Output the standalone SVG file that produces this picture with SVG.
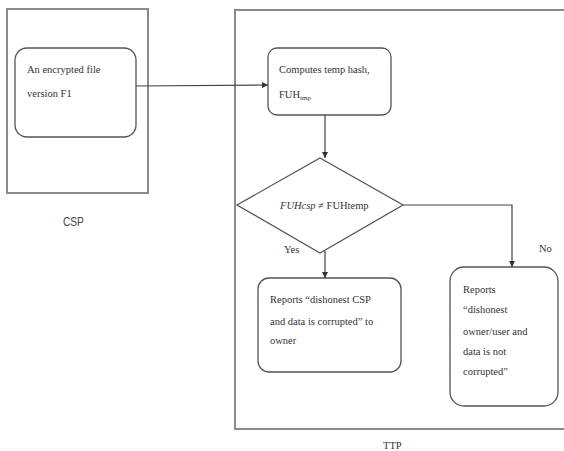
<svg xmlns="http://www.w3.org/2000/svg" width="564" height="451" viewBox="0 0 564 451">
<defs>
<marker id="ah" viewBox="0 0 10 10" refX="10" refY="5" markerWidth="6" markerHeight="6" orient="auto" markerUnits="userSpaceOnUse">
<path d="M0,0 L10,5 L0,10 z" fill="#333"/>
</marker>
</defs>
<style>
.frame{fill:none;stroke:#8a8a8a;stroke-width:2}
.box{fill:#fff;stroke:#555;stroke-width:1.3}
.t{font-family:"Liberation Serif","Times New Roman",serif;font-size:10.5px;fill:#333}
.lbl{font-family:"Liberation Sans",Arial,sans-serif;font-size:12px;fill:#444}
.c{fill:none;stroke:#444;stroke-width:1.2}
</style>
<rect width="564" height="451" fill="#fff"/>
<g id="csp">
<rect class="frame" x="7" y="9" width="141" height="184"/>
<text class="lbl" x="63" y="226" transform="scale(0.85,1) translate(11,0)">CSP</text>
</g>
<g id="ttp">
<rect class="frame" x="235" y="10" width="340" height="419"/>
<text class="t" x="383" y="449" font-size="11">TTP</text>
</g>
<g id="encrypted">
<rect class="box" x="15" y="48" width="121" height="89" rx="12"/>
<text class="t" x="27" y="73">An encrypted file</text>
<text class="t" x="27" y="97">version F1</text>
</g>
<g id="compute">
<rect class="box" x="268" y="48" width="123" height="67" rx="9"/>
<text class="t" x="279" y="73">Computes temp hash,</text>
<text class="t" x="279" y="98">FUH<tspan font-size="7" dy="2">tmp</tspan></text>
</g>
<g id="decision">
<polygon class="box" points="320,158 403,205 320,253 237,205"/>
<text class="t" x="280" y="209"><tspan font-style="italic">FUHcsp</tspan> ≠ FUHtemp</text>
</g>
<g id="yesbox">
<rect class="box" x="258" y="278" width="143" height="94" rx="11"/>
<text class="t" x="270" y="303">Reports “dishonest CSP</text>
<text class="t" x="270" y="325">and data is corrupted” to</text>
<text class="t" x="270" y="344">owner</text>
</g>
<g id="nobox">
<rect class="box" x="450" y="267" width="108" height="139" rx="14"/>
<text class="t" x="463" y="293">Reports</text>
<text class="t" x="463" y="313">“dishonest</text>
<text class="t" x="463" y="335">owner/user and</text>
<text class="t" x="463" y="355">data is not</text>
<text class="t" x="463" y="375">corrupted”</text>
</g>
<g id="connectors">
<path class="c" d="M136,86 L268,85" marker-end="url(#ah)"/>
<path class="c" d="M325,115 L325,158" marker-end="url(#ah)"/>
<path class="c" d="M325,251 L325,278" marker-end="url(#ah)"/>
<path class="c" d="M403,205 L512,205 L512,267" marker-end="url(#ah)"/>
<text class="t" x="284" y="253">Yes</text>
<text class="t" x="539" y="252">No</text>
</g>
</svg>
